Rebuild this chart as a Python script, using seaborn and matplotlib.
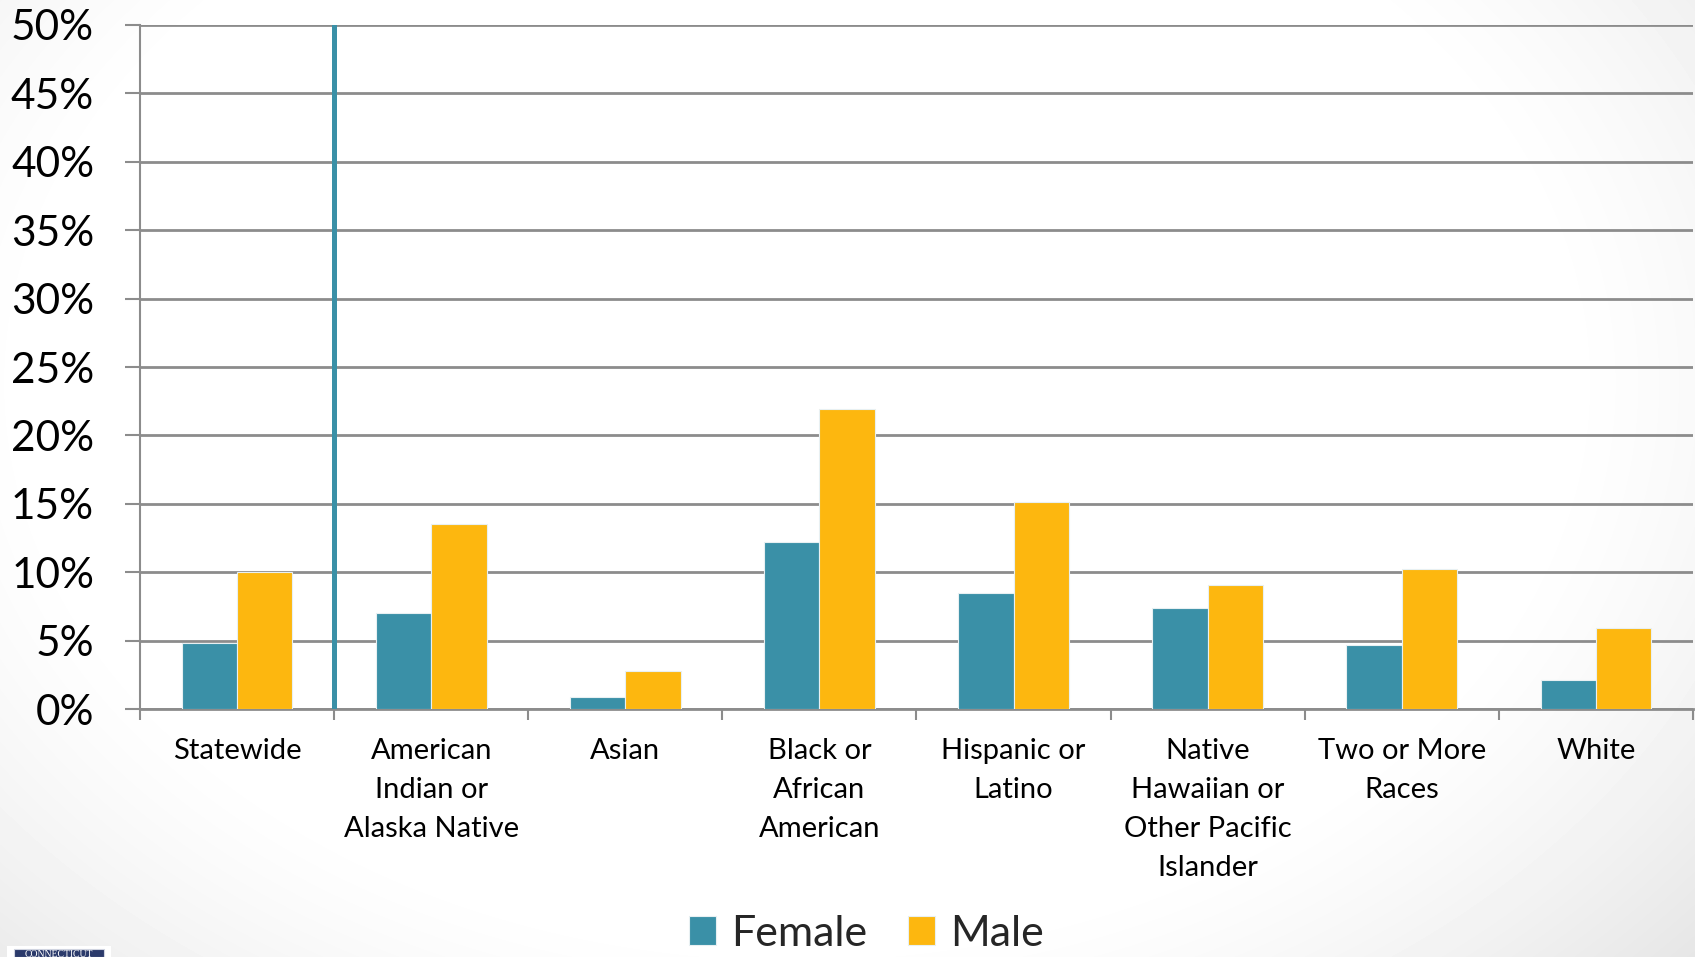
import numpy as np
import pandas as pd
import matplotlib
matplotlib.use("Agg")
import matplotlib.pyplot as plt
from matplotlib.patches import Rectangle
from matplotlib.ticker import FixedLocator
import seaborn as sns

# Data (percent)
groups = [
    "Statewide",
    "American\nIndian or\nAlaska Native",
    "Asian",
    "Black or\nAfrican\nAmerican",
    "Hispanic or\nLatino",
    "Native\nHawaiian or\nOther Pacific\nIslander",
    "Two or More\nRaces",
    "White",
]
female = [4.8, 7.0, 0.9, 12.2, 8.5, 7.4, 4.7, 2.1]
male = [10.0, 13.5, 2.8, 21.9, 15.1, 9.1, 10.2, 5.9]
series = ["Female", "Male"]
y_ticks = [0, 5, 10, 15, 20, 25, 30, 35, 40, 45, 50]
y_tick_labels = [f"{t}%" for t in y_ticks]

TEAL = "#3a90a7"
GOLD = "#fdb70f"
GRID = "#8c8c8c"

df = pd.DataFrame({
    "group": groups * 2,
    "sex": ["Female"] * len(groups) + ["Male"] * len(groups),
    "value": female + male,
})

sns.set_theme(style="white")
plt.rcParams["font.family"] = ["Lato", "DejaVu Sans"]

fig = plt.figure(figsize=(16.95, 9.57), dpi=100)

# soft grey vignette behind the slide
bg = fig.add_axes([0, 0, 1, 1], zorder=-10)
h, w = 957, 1695
yy, xx = np.mgrid[0:h, 0:w]
cx, cy = 0.47 * w, 0.40 * h
r = np.sqrt(((xx - cx) / (0.62 * w)) ** 2 + ((yy - cy) / (0.80 * h)) ** 2)
shade = 1.0 - 0.11 * np.clip(r - 0.72, 0, None) ** 1.3 / 0.45 ** 1.3
shade = np.clip(shade, 0.86, 1.0)
bg.imshow(shade, cmap="gray", vmin=0, vmax=1, aspect="auto",
          extent=[0, 1, 0, 1], origin="upper", interpolation="bilinear")
bg.set_axis_off()

ax = fig.add_axes([0.0826, 0.2591, 0.9162, 0.7148])
ax.set_facecolor("none")

sns.barplot(data=df, x="group", y="value", hue="sex", hue_order=series,
            palette=[TEAL, GOLD], width=0.57, gap=0, saturation=1,
            edgecolor="#e8f0f2", linewidth=0.8, ax=ax, zorder=3)

ax.set_xlim(-0.5, len(groups) - 0.5)
ax.set_ylim(0, 50)
ax.set_yticks(y_ticks)
ax.set_yticklabels(y_tick_labels, fontsize=30.5, color="black")
ax.yaxis.grid(True, color=GRID, linewidth=2.0, zorder=0)
ax.set_axisbelow(True)
ax.tick_params(axis="y", which="major", length=11, width=1.5, color=GRID,
               pad=22, left=True)

ax.set_xticks(range(len(groups)))
ax.set_xticklabels(groups, fontsize=21, color="black", linespacing=1.62)
ax.tick_params(axis="x", which="major", length=0, pad=21)
ax.xaxis.set_minor_locator(FixedLocator(np.arange(-0.5, len(groups), 1.0)))
ax.tick_params(axis="x", which="minor", length=8, width=1.5, color=GRID,
               bottom=True)
ax.set_xlabel("")
ax.set_ylabel("")

for side in ["top", "right"]:
    ax.spines[side].set_visible(False)
ax.spines["left"].set_color(GRID)
ax.spines["left"].set_linewidth(1.5)
ax.spines["bottom"].set_color(GRID)
ax.spines["bottom"].set_linewidth(2.0)

# separator between the statewide total and the subgroups
ax.axvline(0.5, ymin=0, ymax=1, color=TEAL, linewidth=3.6, zorder=4)

handles, labels = ax.get_legend_handles_labels()
ax.get_legend().remove()
fig.legend(handles, labels, loc="lower center", bbox_to_anchor=(0.511, -0.036),
           ncol=2, frameon=False, fontsize=31, handlelength=0.64,
           handleheight=0.64, handletextpad=0.34, columnspacing=0.95)

# logo tab peeking in at the lower-left corner
fig.patches.append(Rectangle((7 / w, 0), 104 / w, 11 / h, transform=fig.transFigure,
                             facecolor="white", edgecolor="none", zorder=5))
fig.patches.append(Rectangle((14 / w, 0), 90 / w, 8 / h, transform=fig.transFigure,
                             facecolor="#2b3a6b", edgecolor="#d0d4e0", linewidth=0.8,
                             zorder=6))
fig.text(59 / w, -2 / h, "CONNECTICUT", ha="center", va="bottom", fontsize=7,
         color="white", family=["Liberation Serif", "DejaVu Serif"], zorder=7)

fig.savefig("out.png", dpi=100)
